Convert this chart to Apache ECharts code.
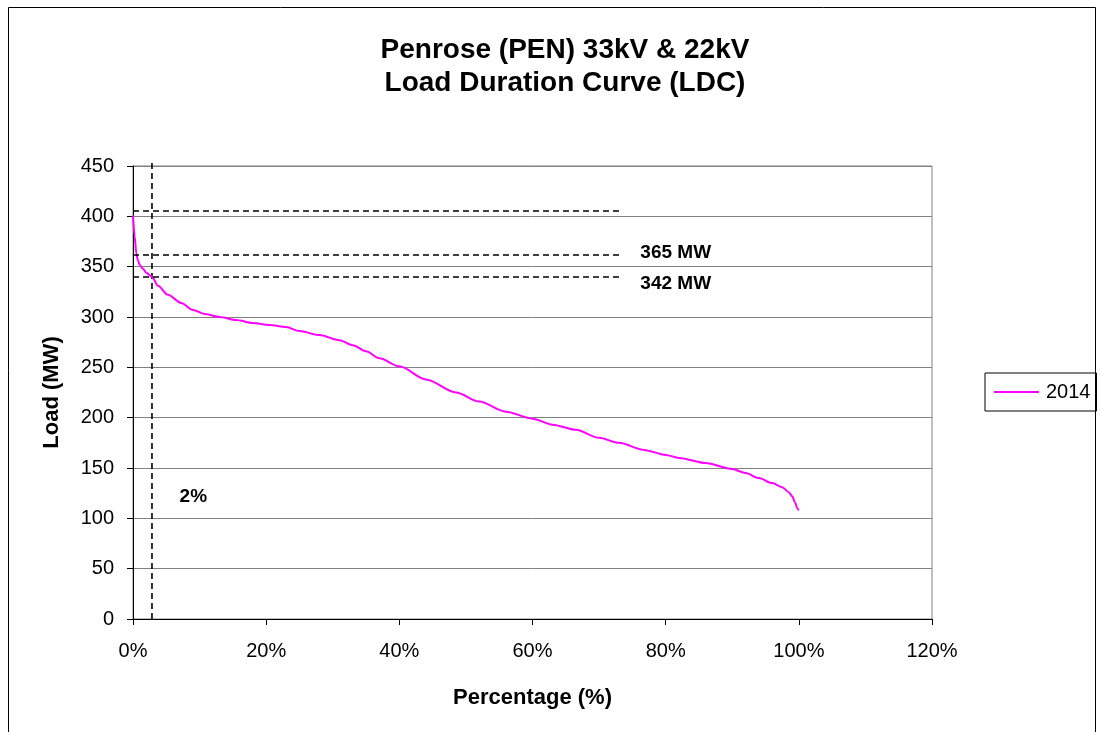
<!DOCTYPE html>
<html>
<head>
<meta charset="utf-8">
<script src="https://cdn.jsdelivr.net/npm/echarts@6/dist/echarts.min.js"></script>
<style>
html,body{margin:0;padding:0;background:#fff;}
#chart{width:1102px;height:732px;}
</style>
</head>
<body>
<div id="chart"></div>
<script>
// Data
const pct = [0, 0.25, 0.5, 0.75, 1, 1.5, 2, 2.85, 3.75, 5.25, 7.25, 9, 10.75, 13, 15.5, 18, 20.5, 23, 25, 28, 31, 33, 35, 37, 40, 44, 48.5, 52, 56, 60, 63, 66.5, 70, 73, 76.75, 80, 82, 86, 90, 92, 94, 96, 97.5, 98.5, 99, 99.5, 99.75, 100];
const load2014 = [401, 380, 363, 356, 352, 348, 344, 340, 331, 322, 314, 307, 303, 300, 297, 294, 292, 290, 286, 282, 277, 272, 266, 259, 251, 238, 225, 216, 206, 199, 193, 188, 180, 175, 168, 163, 160, 155, 149, 145, 140, 135, 131, 126, 122, 115, 110, 108];
const seriesName = '2014';
const refLoads = [406, 362, 340];      // horizontal dashed reference lines (MW)
const refLineEndPct = 73;              // where the horizontal dashed lines stop
const refPct = 2.85;                   // vertical dashed line (the "2%" marker)
const refPctTop = 453;                 // vertical dashed line runs slightly above the top gridline
const xTicks = [0, 20, 40, 60, 80, 100, 120];
const yTicks = [0, 50, 100, 150, 200, 250, 300, 350, 400, 450];
const annotations = [
  {text: '365 MW', x: 76.2, y: 363.5},
  {text: '342 MW', x: 76.2, y: 333},
  {text: '2%', x: 7.0, y: 121}
];

const chart = echarts.init(document.getElementById('chart'));
const FONT = '"Liberation Sans", Arial, sans-serif';
const curve = pct.map((p, i) => [p, load2014[i]]);

const dashStyle = {color: '#000', width: 1.6, type: [6, 4]};
const markLines = refLoads.map(v => [
  {coord: [0, v], lineStyle: dashStyle},
  {coord: [refLineEndPct, v]}
]);

chart.setOption({
  animation: false,
  backgroundColor: '#fff',
  textStyle: {fontFamily: FONT},
  graphic: [{
    type: 'rect', silent: true, z: -1,
    shape: {x: 8.5, y: 7.5, width: 1087, height: 740},
    style: {fill: 'none', stroke: '#000', lineWidth: 1}
  }],
  title: {
    text: 'Penrose (PEN) 33kV & 22kV\nLoad Duration Curve (LDC)',
    left: 560, top: 29, textAlign: 'center',
    textStyle: {fontFamily: FONT, fontSize: 28, fontWeight: 'bold', color: '#000', lineHeight: 33}
  },
  legend: {
    data: [seriesName],
    orient: 'vertical',
    left: 985, top: 373,
    padding: [9, 6, 9, 9],
    icon: 'rect',
    itemWidth: 45, itemHeight: 2, itemGap: 0,
    borderColor: '#000', borderWidth: 1,
    textStyle: {fontFamily: FONT, fontSize: 20, color: '#000', padding: [0, 0, 0, 2]}
  },
  grid: {
    left: 133, right: 170, top: 166, bottom: 113,
    show: true, borderColor: '#808080', borderWidth: 1, containLabel: false
  },
  xAxis: {
    type: 'value', min: xTicks[0], max: xTicks[xTicks.length - 1], interval: 20,
    name: 'Percentage (%)', nameLocation: 'middle', nameGap: 68,
    nameTextStyle: {fontFamily: FONT, fontSize: 22, fontWeight: 'bold', color: '#000'},
    axisLine: {lineStyle: {color: '#000', width: 1}},
    axisTick: {show: true, inside: false, length: 6, lineStyle: {color: '#000'}},
    axisLabel: {formatter: '{value}%', margin: 22, fontFamily: FONT, fontSize: 20, color: '#000'},
    splitLine: {show: false}
  },
  yAxis: {
    type: 'value', min: yTicks[0], max: yTicks[yTicks.length - 1], interval: 50,
    name: 'Load (MW)', nameLocation: 'middle', nameGap: 70, nameRotate: 90,
    nameTextStyle: {fontFamily: FONT, fontSize: 22, fontWeight: 'bold', color: '#000'},
    axisLine: {show: true, lineStyle: {color: '#000', width: 1}},
    axisTick: {show: true, inside: false, length: 6, lineStyle: {color: '#000'}},
    axisLabel: {margin: 19, fontFamily: FONT, fontSize: 20, color: '#000'},
    splitLine: {show: true, lineStyle: {color: '#808080', width: 1}}
  },
  series: [{
    name: seriesName,
    type: 'line',
    data: curve,
    symbol: 'none',
    smooth: 0.3,
    smoothMonotone: 'x',
    lineStyle: {color: '#FF00FF', width: 2},
    itemStyle: {color: '#FF00FF'},
    markLine: {
      silent: true, symbol: ['none', 'none'],
      label: {show: false},
      data: markLines
    },
    markPoint: {
      silent: true,
      symbol: 'circle', symbolSize: 0,
      data: annotations.map(a => ({
        coord: [a.x, a.y],
        label: {
          show: true, position: 'right', distance: 0,
          formatter: a.text,
          fontFamily: FONT, fontSize: 19, fontWeight: 'bold', color: '#000'
        }
      }))
    }
  }, {
    name: 'refVertical',
    type: 'line',
    data: [[refPct, yTicks[0]], [refPct, refPctTop]],
    symbol: 'none',
    clip: false,
    silent: true,
    lineStyle: dashStyle,
    z: 1
  }]
});
</script>
</body>
</html>
